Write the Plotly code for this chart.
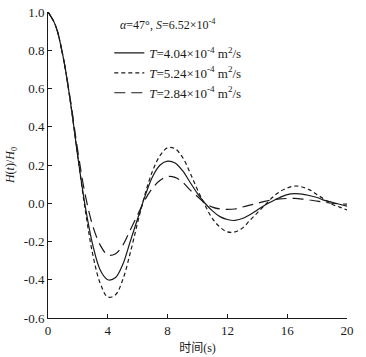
import plotly.graph_objects as go

# time axis (s)
t = [0.0, 0.5, 1.0, 1.5, 2.0, 2.5, 3.0, 3.5, 4.0, 4.5, 5.0, 5.5, 6.0, 6.5, 7.0, 7.5,
     8.0, 8.5, 9.0, 9.5, 10.0, 10.5, 11.0, 11.5, 12.0, 12.5, 13.0, 13.5, 14.0, 14.5,
     15.0, 15.5, 16.0, 16.5, 17.0, 17.5, 18.0, 18.5, 19.0, 19.5, 20.0]

# H(t)/H0, T = 4.04e-4 m2/s
h_404 = [1.0, 0.93, 0.77, 0.53, 0.24, -0.02, -0.22, -0.35, -0.40, -0.39, -0.32, -0.20,
         -0.08, 0.04, 0.14, 0.20, 0.22, 0.21, 0.17, 0.11, 0.05, 0.00, -0.04, -0.07,
         -0.085, -0.09, -0.08, -0.06, -0.035, -0.01, 0.01, 0.03, 0.045, 0.05, 0.048,
         0.04, 0.03, 0.015, 0.005, -0.005, -0.015]

# T = 5.24e-4 m2/s
h_524 = [1.0, 0.93, 0.77, 0.53, 0.24, -0.04, -0.27, -0.42, -0.49, -0.48, -0.40, -0.26,
         -0.10, 0.05, 0.17, 0.25, 0.29, 0.285, 0.24, 0.16, 0.07, -0.01, -0.08, -0.125,
         -0.15, -0.15, -0.13, -0.09, -0.05, -0.01, 0.03, 0.06, 0.08, 0.09, 0.085,
         0.07, 0.045, 0.02, -0.005, -0.02, -0.035]

# T = 2.84e-4 m2/s
h_284 = [1.0, 0.93, 0.77, 0.54, 0.27, 0.04, -0.12, -0.22, -0.27, -0.265, -0.22, -0.14,
         -0.06, 0.02, 0.08, 0.12, 0.14, 0.135, 0.11, 0.07, 0.035, 0.00, -0.02, -0.03,
         -0.032, -0.03, -0.02, -0.01, 0.0, 0.01, 0.018, 0.023, 0.025, 0.025, 0.022,
         0.017, 0.011, 0.005, 0.0, -0.003, -0.005]

x_ticks = [0, 4, 8, 12, 16, 20]
y_ticks = [-0.6, -0.4, -0.2, 0.0, 0.2, 0.4, 0.6, 0.8, 1.0]

serif = "'Liberation Serif', 'Noto Sans CJK SC', serif"
ink = "#1a1a1a"

fig = go.Figure()
series = [
    (h_404, "<i>T</i>=4.04×10<sup>-4</sup> m<sup>2</sup>/s", "solid"),
    (h_524, "<i>T</i>=5.24×10<sup>-4</sup> m<sup>2</sup>/s", "4px,3px"),
    (h_284, "<i>T</i>=2.84×10<sup>-4</sup> m<sup>2</sup>/s", "11px,6px"),
]
for h, name, dash in series:
    fig.add_trace(go.Scatter(
        x=t, y=h, mode="lines", name=name,
        line=dict(color=ink, width=1.2, dash=dash, shape="spline", smoothing=1.0),
    ))

fig.add_annotation(
    text="<i>α</i>=47°, <i>S</i>=6.52×10<sup>-4</sup>",
    xref="paper", yref="paper", x=0.235, y=0.958, xanchor="left", yanchor="middle",
    showarrow=False, font=dict(family=serif, size=12, color=ink),
)

axis_common = dict(
    showline=True, linecolor=ink, linewidth=1, ticks="inside", ticklen=4,
    tickcolor=ink, showgrid=False, zeroline=False, mirror=False, automargin=False,
    tickfont=dict(family=serif, size=13, color=ink),
)

fig.update_xaxes(range=[0, 20], tickvals=x_ticks, ticktext=[str(v) for v in x_ticks],
                 title=dict(text="时间(s)", font=dict(family=serif, size=12, color=ink), standoff=7),
                 **axis_common)
fig.update_yaxes(range=[-0.6, 1.0], tickvals=y_ticks, ticktext=[f"{v:.1f}" for v in y_ticks],
                 title=dict(text="<i>H</i>(<i>t</i>)/<i>H</i><sub>0</sub>",
                            font=dict(family=serif, size=12, color=ink), standoff=6),
                 **axis_common)

fig.update_layout(
    width=366, height=357,
    margin=dict(l=48, r=19, t=12, b=39),
    plot_bgcolor="white", paper_bgcolor="white",
    font=dict(family=serif, color=ink),
    legend=dict(x=0.205, y=0.915, xanchor="left", yanchor="top",
                bgcolor="rgba(0,0,0,0)", font=dict(family=serif, size=13, color=ink),
                tracegroupgap=0, itemwidth=30),
    showlegend=True,
)

# drop the default page margin so the figure sits at the window's corner
fig.write_html("out.html", config={"displayModeBar": False},
               post_script="document.body.style.margin='0';")
